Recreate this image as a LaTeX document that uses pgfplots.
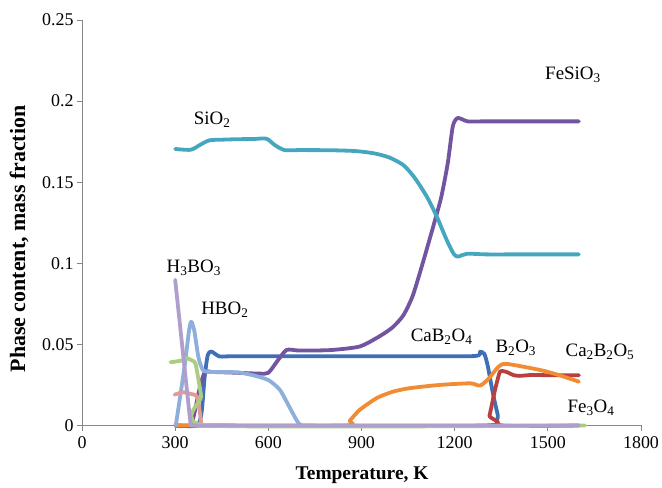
\documentclass[border=0pt]{standalone}
\usepackage{fontspec}
\setmainfont{Liberation Serif}
\usepackage{pgfplots}
\pgfplotsset{compat=1.18}
\definecolor{cBlue}{HTML}{3F6FB6}
\definecolor{cRed}{HTML}{B8403E}
\definecolor{cPurple}{HTML}{7254A0}
\definecolor{cTeal}{HTML}{45A7BF}
\definecolor{cOrange}{HTML}{F08C33}
\definecolor{cLBlue}{HTML}{8EAEDB}
\definecolor{cSalmon}{HTML}{E39A97}
\definecolor{cLGreen}{HTML}{ABCD80}
\definecolor{cLilac}{HTML}{AE9FCB}
\definecolor{cAxis}{HTML}{868686}
\begin{document}
\begin{tikzpicture}
\path[use as bounding box] (0,0) rectangle (662bp,488bp);
\begin{axis}[
  at={(82bp,62.5bp)}, anchor=south west,
  scale only axis, width=559bp, height=405.5bp,
  xmin=0, xmax=1800, ymin=0, ymax=0.25,
  axis lines*=left,
  axis line style={draw=cAxis, line width=0.9bp, -},
  xtick={0,300,600,900,1200,1500,1800},
  xticklabels={0,300,600,900,1200,1500,1800},
  ytick={0,0.05,0.1,0.15,0.2,0.25},
  yticklabels={0,0.05,0.1,0.15,0.2,0.25},
  scaled y ticks=false,
  tick align=outside, major tick length=5bp,
  tick style={draw=cAxis, line width=0.9bp},
  ticklabel style={font=\fontsize{18}{20}\selectfont},
  /pgf/number format/assume math mode=true,
  /pgf/number format/1000 sep={},
  xticklabel style={yshift=-3bp},
  xlabel={\textbf{Temperature, K}},
  ylabel={\textbf{Phase content, mass fraction}},
  xlabel style={at={(axis description cs:0.501,-0.122)}, anchor=center, font=\fontsize{19.5}{22}\selectfont},
  ylabel style={at={(axis description cs:-0.1127,0.46)}, anchor=center, font=\fontsize{22}{24}\selectfont},
  clip=false,
  every axis plot/.append style={line width=3.8bp, line cap=round, line join=round},
]
% CaB2O4
\addplot[cBlue, smooth, tension=0.4] coordinates {
(300,0) (370,0) (385,0.008) (395,0.03) (405,0.0435) (417,0.0456) (444,0.0425) (500,0.0427) (1000,0.0427) (1262,0.0428) (1282,0.0455) (1296,0.0440) (1307,0.0363) (1323,0.020) (1339,0.0065) (1352,0) (1600,0)};
% red
\addplot[cRed, smooth, tension=0.3] coordinates {
(300,0) (1300,0) (1312,0.006) (1330,0.022) (1346,0.0332) (1367,0.033) (1390,0.031) (1410,0.0306) (1450,0.0312) (1500,0.031) (1600,0.031)};
% FeSiO3
\addplot[cPurple, smooth, tension=0.4] coordinates {
(300,0) (348,0) (360,0.006) (380,0.024) (396,0.033) (420,0.033) (500,0.0325) (572,0.032) (600,0.0325) (630,0.040) (659,0.0466) (700,0.0462) (800,0.0465) (894,0.0487) (958,0.055) (1000,0.0605) (1035,0.068) (1065,0.080) (1097,0.100) (1131,0.1227) (1157,0.141) (1178,0.162) (1194,0.1845) (1210,0.1896) (1242,0.1875) (1300,0.1875) (1600,0.1875)};
% SiO2
\addplot[cTeal, smooth, tension=0.45] coordinates {
(300,0.1705) (350,0.170) (380,0.173) (410,0.1758) (450,0.1762) (500,0.1765) (550,0.1766) (594,0.1768) (620,0.173) (652,0.1698) (700,0.1698) (800,0.1697) (880,0.1692) (940,0.1678) (990,0.1652) (1035,0.1605) (1070,0.1530) (1110,0.1412) (1142,0.129) (1174,0.1145) (1198,0.1055) (1212,0.1042) (1240,0.1059) (1300,0.1055) (1400,0.1055) (1500,0.1055) (1600,0.1055)};
% orange
\addplot[cOrange, smooth, tension=0.4] coordinates {
(300,0) (840,0) (862,0.003) (894,0.0096) (950,0.017) (1002,0.0209) (1055,0.023) (1151,0.025) (1250,0.026) (1282,0.0246) (1310,0.029) (1340,0.036) (1366,0.038) (1473,0.0343) (1537,0.031) (1600,0.027)};
% HBO2
\addplot[cLBlue, smooth, tension=0.4] coordinates {
(302,0) (330,0.036) (345,0.059) (352,0.064) (362,0.058) (375,0.042) (390,0.034) (420,0.033) (500,0.0328) (550,0.031) (600,0.028) (637,0.022) (669,0.011) (695,0.002) (710,0) (750,0)};
% salmon
\addplot[cSalmon, smooth, tension=0.4] coordinates {
(298,0.019) (325,0.0205) (350,0.0195) (370,0.018) (378,0.010) (385,0)};
% light green
\addplot[cLGreen, smooth, tension=0.3] coordinates {
(285,0.039) (320,0.040) (337,0.0415) (355,0.040) (366,0.038) (384,0.018) (402,0) (1620,0)};
% H3BO3
\addplot[cLilac] coordinates {
(300,0.0898) (350,0) (1600,0)};

\begin{scope}[every node/.style={font=\fontsize{19}{21}\selectfont, anchor=center}]
\node at (axis cs:419,0.1886) {SiO\textsubscript{2}};
\node at (axis cs:1581,0.2160) {FeSiO\textsubscript{3}};
\node at (axis cs:360,0.0972) {H\textsubscript{3}BO\textsubscript{3}};
\node at (axis cs:460,0.0713) {HBO\textsubscript{2}};
\node at (axis cs:1158,0.0546) {CaB\textsubscript{2}O\textsubscript{4}};
\node at (axis cs:1397,0.0478) {B\textsubscript{2}O\textsubscript{3}};
\node at (axis cs:1668,0.0454) {Ca\textsubscript{2}B\textsubscript{2}O\textsubscript{5}};
\node at (axis cs:1639,0.0108) {Fe\textsubscript{3}O\textsubscript{4}};
\end{scope}
\end{axis}
\end{tikzpicture}
\end{document}
